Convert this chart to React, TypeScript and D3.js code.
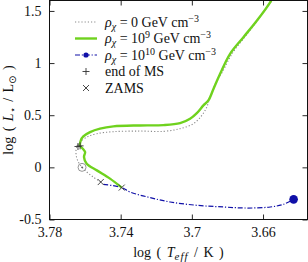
import * as d3 from 'd3';
import { useEffect, useRef } from 'react';

// tracks in the HR diagram: [log Teff, log L]
const trackNoDM: [number, number][] = [
  [3.7512, -0.141], [3.7554, -0.093], [3.7600, -0.029], [3.7638, 0.051],
  [3.7651, 0.131], [3.7647, 0.194], [3.7628, 0.242], [3.7591, 0.290],
  [3.7534, 0.323], [3.7441, 0.342], [3.7291, 0.348], [3.7160, 0.345],
  [3.7066, 0.371], [3.6991, 0.419], [3.6944, 0.498], [3.6916, 0.578],
  [3.6897, 0.673], [3.6859, 0.833], [3.6830, 0.910], [3.6773, 1.092],
  [3.6700, 1.255], [3.6627, 1.418], [3.6548, 1.600], [3.6535, 1.63],
];
const trackDM9: [number, number][] = [
  [3.7394, -0.194], [3.7460, -0.108], [3.7534, -0.029], [3.7591, 0.035],
  [3.7606, 0.099], [3.7600, 0.147], [3.7613, 0.179], [3.7628, 0.206],
  [3.7624, 0.259], [3.7610, 0.297], [3.7572, 0.338], [3.7516, 0.371],
  [3.7441, 0.393], [3.7291, 0.402], [3.7160, 0.405], [3.7066, 0.424],
  [3.7010, 0.466], [3.6972, 0.520], [3.6935, 0.594], [3.6907, 0.642],
  [3.6878, 0.754], [3.6841, 0.898], [3.6785, 1.089], [3.6710, 1.248],
  [3.6634, 1.408], [3.6560, 1.583], [3.6545, 1.63],
];
const trackDM10: [number, number][] = [
  [3.7497, -0.163], [3.7394, -0.194], [3.7347, -0.237], [3.7235, -0.290],
  [3.7122, -0.332], [3.6972, -0.364], [3.6822, -0.380], [3.6691, -0.390],
  [3.6559, -0.380], [3.6485, -0.354], [3.6428, -0.307],
];
const endOfMS: [number, number][] = [[3.7640, 0.200], [3.7628, 0.206]];
const zams: [number, number][] = [[3.7512, -0.141], [3.7394, -0.194]];
const sun: [number, number] = [3.7617, 0];

const xTicks = [3.78, 3.74, 3.7, 3.66];
const xTickLabels = ['3.78', '3.74', '3.7', '3.66'];
const yTicks = [-0.5, 0, 0.5, 1, 1.5];
const yTickLabels = ['-0.5', '0', '0.5', '1', '1.5'];

const W = 308;
const H = 262;
const plot = { left: 49.5, top: 0.5, right: 307.5, bottom: 219.5 };
const font = '"Liberation Serif", "DejaVu Serif", serif';
const green = '#6fd21e';
const blue = '#1010a8';
const grey = '#8a8a8a';

function App() {
  const gBottom = useRef<SVGGElement>(null);
  const gLeft = useRef<SVGGElement>(null);
  const gTop = useRef<SVGGElement>(null);
  const gRight = useRef<SVGGElement>(null);

  const x = d3.scaleLinear().domain([3.78, 3.635]).range([plot.left, plot.right]);
  const y = d3.scaleLinear().domain([-0.5, 1.6]).range([plot.bottom, plot.top]);
  const line = d3.line<[number, number]>()
    .x(d => x(d[0])).y(d => y(d[1]))
    .curve(d3.curveCatmullRom.alpha(0.5));

  useEffect(() => {
    const style = (sel: d3.Selection<SVGGElement, unknown, null, undefined>) => {
      sel.select('.domain').remove();
      sel.selectAll('line').attr('stroke', '#111').attr('stroke-width', 0.9);
      sel.selectAll('text').attr('font-family', font).attr('font-size', 14).attr('fill', '#111');
    };
    const fx = (d: d3.NumberValue) => xTickLabels[xTicks.indexOf(+d)];
    const fy = (d: d3.NumberValue) => yTickLabels[yTicks.indexOf(+d)];
    d3.select(gBottom.current!)
      .call(d3.axisBottom(x).tickValues(xTicks).tickFormat(fx).tickSize(-5).tickPadding(8))
      .call(style);
    d3.select(gLeft.current!)
      .call(d3.axisLeft(y).tickValues(yTicks).tickFormat(fy).tickSize(-5).tickPadding(8))
      .call(style);
    d3.select(gTop.current!)
      .call(d3.axisTop(x).tickValues(xTicks).tickFormat(() => '').tickSize(-5))
      .call(style);
    d3.select(gRight.current!)
      .call(d3.axisRight(y).tickValues(yTicks).tickFormat(() => '').tickSize(-5))
      .call(style);
  });

  const plus = (cx: number, cy: number, k: string) => (
    <path key={k} d={`M${cx - 3.5},${cy}H${cx + 3.5}M${cx},${cy - 3.5}V${cy + 3.5}`} stroke="#333" strokeWidth={0.9} fill="none" />
  );
  const cross = (cx: number, cy: number, k: string) => (
    <path key={k} d={`M${cx - 3},${cy - 3}L${cx + 3},${cy + 3}M${cx - 3},${cy + 3}L${cx + 3},${cy - 3}`} stroke="#333" strokeWidth={0.9} fill="none" />
  );

  const legendRows = [22, 38.5, 55, 71.5, 88];
  const lx0 = 75;
  const lx1 = 97;
  const tx = 105;
  const last10 = trackDM10[trackDM10.length - 1];

  const rho = (exp: string | null) => (
    <>
      <tspan fontStyle="italic">ρ</tspan>
      <tspan fontStyle="italic" fontSize={10} dy={3}>χ</tspan>
      <tspan dy={-3}>{' = '}{exp === null ? '0' : '10'}</tspan>
      {exp !== null && <tspan fontSize={10} dy={-5}>{exp}</tspan>}
      <tspan dy={exp !== null ? 5 : 0}>{' GeV cm'}</tspan>
      <tspan fontSize={10} dy={-5}>−3</tspan>
    </>
  );

  return (
    <svg width={W} height={H} style={{ position: 'absolute', left: 0, top: 0, background: '#fff' }}>
      <defs>
        <clipPath id="plotclip">
          <rect x={plot.left} y={plot.top} width={plot.right - plot.left} height={plot.bottom - plot.top} />
        </clipPath>
      </defs>
      <g clipPath="url(#plotclip)">
        <path d={line(trackNoDM)!} fill="none" stroke={grey} strokeWidth={1.1} strokeDasharray="1.2 2" />
        <path d={line(trackDM10)!} fill="none" stroke={blue} strokeWidth={1.2} strokeDasharray="5 1.8 1.2 1.8" />
        <path d={line(trackDM9)!} fill="none" stroke={green} strokeWidth={2.4} />
        <circle cx={x(last10[0])} cy={y(last10[1])} r={4.3} fill={blue} />
        <circle cx={x(sun[0])} cy={y(sun[1])} r={4} fill="none" stroke={grey} strokeWidth={0.9} />
        <circle cx={x(sun[0])} cy={y(sun[1])} r={0.9} fill="#555" />
        {endOfMS.map((d, i) => plus(x(d[0]), y(d[1]), 'p' + i))}
        {zams.map((d, i) => cross(x(d[0]), y(d[1]), 'z' + i))}
      </g>
      <rect x={plot.left} y={plot.top} width={plot.right - plot.left} height={plot.bottom - plot.top} fill="none" stroke="#111" strokeWidth={1} />
      <g ref={gBottom} transform={`translate(0,${plot.bottom})`} />
      <g ref={gLeft} transform={`translate(${plot.left},0)`} />
      <g ref={gTop} transform={`translate(0,${plot.top})`} />
      <g ref={gRight} transform={`translate(${plot.right},0)`} />

      {/* legend */}
      <g fontFamily={font} fontSize={14} fill="#111">
        <line x1={lx0} x2={lx1} y1={legendRows[0]} y2={legendRows[0]} stroke={grey} strokeWidth={1.1} strokeDasharray="1.2 2" />
        <line x1={lx0} x2={lx1} y1={legendRows[1]} y2={legendRows[1]} stroke={green} strokeWidth={2.4} />
        <line x1={lx0} x2={lx1} y1={legendRows[2]} y2={legendRows[2]} stroke={blue} strokeWidth={1.2} strokeDasharray="5 1.8 1.2 1.8" />
        <circle cx={(lx0 + lx1) / 2} cy={legendRows[2]} r={2.6} fill={blue} />
        {plus((lx0 + lx1) / 2, legendRows[3], 'lp')}
        {cross((lx0 + lx1) / 2, legendRows[4], 'lz')}
        <text x={tx} y={legendRows[0] + 4.5}>{rho(null)}</text>
        <text x={tx} y={legendRows[1] + 4.5}>{rho('9')}</text>
        <text x={tx} y={legendRows[2] + 4.5}>{rho('10')}</text>
        <text x={tx} y={legendRows[3] + 4.5}>end of MS</text>
        <text x={tx} y={legendRows[4] + 4.5}>ZAMS</text>
      </g>

      {/* axis titles */}
      <text x={(plot.left + plot.right) / 2} y={257} textAnchor="middle" fontFamily={font} fontSize={14} fill="#111" wordSpacing={2}>
        log ( <tspan fontStyle="italic">T</tspan><tspan fontStyle="italic" fontSize={11} dy={3} letterSpacing={1}>eff</tspan><tspan dy={-3}> / K )</tspan>
      </text>
      <text transform={`translate(13,${(plot.top + plot.bottom) / 2}) rotate(-90)`} textAnchor="middle" fontFamily={font} fontSize={14} fill="#111" wordSpacing={2}>
        log ( <tspan fontStyle="italic">L</tspan><tspan fontSize={10} dy={3}>⋆</tspan><tspan dy={-3}> / L</tspan><tspan fontSize={10} dy={3} fontFamily="DejaVu Sans">⊙</tspan><tspan dy={-3}> )</tspan>
      </text>
    </svg>
  );
}

export default App;
